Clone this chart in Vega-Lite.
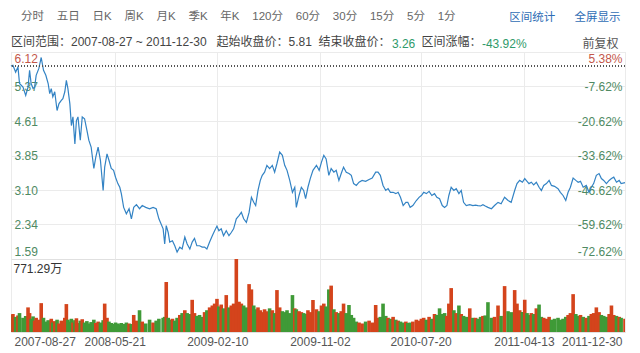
{
  "$schema": "https://vega.github.io/schema/vega-lite/v6.json",
  "padding": {"left": 8, "right": 18, "top": 10, "bottom": 4},
  "background": "white",
  "config": {
    "font": "Liberation Sans, Noto Sans CJK SC",
    "view": {"stroke": "#e0e0e0"},
    "axis": {"labelFont": "Liberation Sans, Noto Sans CJK SC", "titleFont": "Liberation Sans, Noto Sans CJK SC", "minExtent": 0},
    "axisY": {"minExtent": 0},
    "title": {"font": "Liberation Sans, Noto Sans CJK SC", "subtitleFont": "Liberation Sans, Noto Sans CJK SC"}
  },
  "title": {
    "text": "分时\u00a0\u00a0\u00a0\u00a0五日\u00a0\u00a0\u00a0\u00a0日K\u00a0\u00a0\u00a0\u00a0周K\u00a0\u00a0\u00a0\u00a0月K\u00a0\u00a0\u00a0\u00a0季K\u00a0\u00a0\u00a0\u00a0年K\u00a0\u00a0\u00a0\u00a0120分\u00a0\u00a0\u00a0\u00a060分\u00a0\u00a0\u00a0\u00a030分\u00a0\u00a0\u00a0\u00a015分\u00a0\u00a0\u00a0\u00a05分\u00a0\u00a0\u00a0\u00a01分",
    "anchor": "start",
    "frame": "group",
    "dx": 10,
    "fontSize": 11.5,
    "fontWeight": "normal",
    "color": "#666666",
    "offset": -11.5
  },
  "datasets": {
    "k": [
{"date":"2007-08-27","close":5.81,"volume":180,"dir":"down"},
{"date":"2007-09-01","close":5.83,"volume":190,"dir":"up"},
{"date":"2007-09-08","close":5.68,"volume":160,"dir":"down"},
{"date":"2007-09-14","close":5.79,"volume":175,"dir":"up"},
{"date":"2007-09-18","close":5.43,"volume":200,"dir":"down"},
{"date":"2007-09-27","close":5.35,"volume":150,"dir":"down"},
{"date":"2007-10-04","close":5.17,"volume":170,"dir":"down"},
{"date":"2007-10-10","close":5.35,"volume":260,"dir":"up"},
{"date":"2007-10-14","close":5.72,"volume":200,"dir":"up"},
{"date":"2007-10-18","close":5.43,"volume":140,"dir":"down"},
{"date":"2007-10-23","close":5.32,"volume":165,"dir":"down"},
{"date":"2007-10-27","close":5.35,"volume":120,"dir":"up"},
{"date":"2007-10-31","close":5.61,"volume":150,"dir":"up"},
{"date":"2007-11-07","close":5.76,"volume":130,"dir":"up"},
{"date":"2007-11-13","close":6.00,"volume":305,"dir":"up"},
{"date":"2007-11-19","close":5.72,"volume":150,"dir":"down"},
{"date":"2007-11-25","close":5.61,"volume":110,"dir":"down"},
{"date":"2007-12-01","close":5.43,"volume":125,"dir":"down"},
{"date":"2007-12-05","close":5.21,"volume":95,"dir":"down"},
{"date":"2007-12-09","close":5.32,"volume":140,"dir":"up"},
{"date":"2007-12-13","close":5.14,"volume":100,"dir":"down"},
{"date":"2007-12-18","close":5.25,"volume":115,"dir":"up"},
{"date":"2007-12-24","close":4.84,"volume":130,"dir":"down"},
{"date":"2007-12-29","close":4.99,"volume":90,"dir":"up"},
{"date":"2008-01-04","close":5.06,"volume":120,"dir":"up"},
{"date":"2008-01-08","close":5.10,"volume":105,"dir":"up"},
{"date":"2008-01-13","close":5.25,"volume":150,"dir":"up"},
{"date":"2008-01-17","close":5.50,"volume":295,"dir":"up"},
{"date":"2008-01-21","close":5.32,"volume":130,"dir":"down"},
{"date":"2008-01-26","close":4.99,"volume":110,"dir":"down"},
{"date":"2008-01-30","close":4.51,"volume":140,"dir":"down"},
{"date":"2008-02-03","close":4.70,"volume":100,"dir":"up"},
{"date":"2008-02-08","close":4.11,"volume":125,"dir":"down"},
{"date":"2008-02-12","close":4.62,"volume":145,"dir":"up"},
{"date":"2008-02-16","close":4.70,"volume":95,"dir":"up"},
{"date":"2008-02-22","close":4.19,"volume":120,"dir":"down"},
{"date":"2008-02-27","close":4.70,"volume":135,"dir":"up"},
{"date":"2008-03-04","close":4.66,"volume":100,"dir":"down"},
{"date":"2008-03-10","close":4.41,"volume":115,"dir":"down"},
{"date":"2008-03-15","close":4.19,"volume":90,"dir":"down"},
{"date":"2008-03-21","close":4.04,"volume":105,"dir":"down"},
{"date":"2008-03-28","close":3.57,"volume":130,"dir":"down"},
{"date":"2008-04-02","close":3.82,"volume":95,"dir":"up"},
{"date":"2008-04-08","close":4.04,"volume":110,"dir":"up"},
{"date":"2008-04-14","close":3.75,"volume":100,"dir":"down"},
{"date":"2008-04-21","close":3.09,"volume":125,"dir":"down"},
{"date":"2008-04-25","close":3.60,"volume":300,"dir":"up"},
{"date":"2008-05-01","close":3.89,"volume":150,"dir":"up"},
{"date":"2008-05-06","close":3.75,"volume":110,"dir":"down"},
{"date":"2008-05-12","close":3.57,"volume":95,"dir":"down"},
{"date":"2008-05-18","close":3.53,"volume":85,"dir":"down"},
{"date":"2008-05-23","close":3.38,"volume":100,"dir":"down"},
{"date":"2008-05-29","close":3.24,"volume":90,"dir":"down"},
{"date":"2008-06-03","close":3.16,"volume":80,"dir":"down"},
{"date":"2008-06-07","close":3.02,"volume":95,"dir":"down"},
{"date":"2008-06-13","close":2.72,"volume":85,"dir":"down"},
{"date":"2008-06-20","close":2.58,"volume":100,"dir":"down"},
{"date":"2008-06-27","close":2.69,"volume":90,"dir":"up"},
{"date":"2008-07-03","close":2.47,"volume":85,"dir":"down"},
{"date":"2008-07-09","close":2.72,"volume":180,"dir":"up"},
{"date":"2008-07-16","close":2.78,"volume":120,"dir":"up"},
{"date":"2008-07-24","close":2.69,"volume":230,"dir":"down"},
{"date":"2008-07-31","close":2.76,"volume":110,"dir":"up"},
{"date":"2008-08-09","close":2.72,"volume":90,"dir":"down"},
{"date":"2008-08-19","close":2.69,"volume":130,"dir":"down"},
{"date":"2008-08-28","close":2.72,"volume":100,"dir":"up"},
{"date":"2008-09-05","close":2.69,"volume":120,"dir":"down"},
{"date":"2008-09-12","close":2.47,"volume":140,"dir":"down"},
{"date":"2008-09-23","close":2.25,"volume":150,"dir":"down"},
{"date":"2008-09-27","close":1.92,"volume":160,"dir":"down"},
{"date":"2008-10-01","close":2.32,"volume":528,"dir":"up"},
{"date":"2008-10-06","close":2.17,"volume":150,"dir":"down"},
{"date":"2008-10-10","close":1.96,"volume":130,"dir":"down"},
{"date":"2008-10-17","close":1.99,"volume":140,"dir":"up"},
{"date":"2008-10-23","close":1.88,"volume":120,"dir":"down"},
{"date":"2008-10-29","close":1.74,"volume":150,"dir":"down"},
{"date":"2008-11-05","close":1.85,"volume":180,"dir":"up"},
{"date":"2008-11-11","close":1.81,"volume":200,"dir":"down"},
{"date":"2008-11-18","close":2.07,"volume":230,"dir":"up"},
{"date":"2008-11-24","close":1.92,"volume":200,"dir":"down"},
{"date":"2008-12-01","close":1.81,"volume":190,"dir":"down"},
{"date":"2008-12-07","close":1.96,"volume":340,"dir":"up"},
{"date":"2008-12-13","close":2.04,"volume":200,"dir":"up"},
{"date":"2008-12-19","close":1.88,"volume":170,"dir":"down"},
{"date":"2008-12-26","close":1.88,"volume":180,"dir":"down"},
{"date":"2009-01-02","close":1.85,"volume":160,"dir":"down"},
{"date":"2009-01-08","close":1.85,"volume":210,"dir":"up"},
{"date":"2009-01-14","close":1.81,"volume":230,"dir":"down"},
{"date":"2009-01-21","close":1.96,"volume":260,"dir":"up"},
{"date":"2009-01-28","close":2.10,"volume":280,"dir":"up"},
{"date":"2009-02-03","close":2.21,"volume":300,"dir":"up"},
{"date":"2009-02-09","close":2.31,"volume":350,"dir":"up"},
{"date":"2009-02-14","close":2.21,"volume":270,"dir":"down"},
{"date":"2009-02-20","close":2.25,"volume":290,"dir":"up"},
{"date":"2009-02-26","close":2.10,"volume":250,"dir":"down"},
{"date":"2009-03-05","close":2.21,"volume":390,"dir":"up"},
{"date":"2009-03-12","close":2.10,"volume":260,"dir":"down"},
{"date":"2009-03-18","close":2.17,"volume":280,"dir":"up"},
{"date":"2009-03-24","close":2.25,"volume":300,"dir":"up"},
{"date":"2009-03-31","close":2.47,"volume":771.29,"dir":"up"},
{"date":"2009-04-07","close":2.54,"volume":320,"dir":"up"},
{"date":"2009-04-13","close":2.61,"volume":300,"dir":"up"},
{"date":"2009-04-19","close":2.47,"volume":280,"dir":"down"},
{"date":"2009-04-26","close":2.39,"volume":260,"dir":"down"},
{"date":"2009-05-03","close":2.61,"volume":506,"dir":"up"},
{"date":"2009-05-09","close":2.94,"volume":450,"dir":"up"},
{"date":"2009-05-15","close":2.83,"volume":280,"dir":"down"},
{"date":"2009-05-20","close":2.76,"volume":240,"dir":"down"},
{"date":"2009-05-26","close":3.09,"volume":260,"dir":"up"},
{"date":"2009-06-01","close":3.31,"volume":230,"dir":"up"},
{"date":"2009-06-06","close":3.42,"volume":210,"dir":"up"},
{"date":"2009-06-12","close":3.49,"volume":240,"dir":"up"},
{"date":"2009-06-18","close":3.64,"volume":220,"dir":"up"},
{"date":"2009-06-25","close":3.57,"volume":250,"dir":"down"},
{"date":"2009-07-02","close":3.64,"volume":230,"dir":"up"},
{"date":"2009-07-08","close":3.49,"volume":200,"dir":"down"},
{"date":"2009-07-14","close":3.68,"volume":443,"dir":"up"},
{"date":"2009-07-21","close":3.93,"volume":260,"dir":"up"},
{"date":"2009-07-28","close":3.86,"volume":220,"dir":"down"},
{"date":"2009-08-03","close":3.64,"volume":210,"dir":"down"},
{"date":"2009-08-09","close":3.53,"volume":230,"dir":"down"},
{"date":"2009-08-16","close":3.31,"volume":200,"dir":"down"},
{"date":"2009-08-23","close":3.05,"volume":390,"dir":"down"},
{"date":"2009-08-29","close":3.16,"volume":250,"dir":"up"},
{"date":"2009-09-02","close":2.72,"volume":240,"dir":"down"},
{"date":"2009-09-09","close":2.98,"volume":220,"dir":"up"},
{"date":"2009-09-15","close":3.16,"volume":210,"dir":"up"},
{"date":"2009-09-21","close":3.09,"volume":200,"dir":"down"},
{"date":"2009-09-26","close":2.91,"volume":190,"dir":"down"},
{"date":"2009-10-02","close":3.16,"volume":230,"dir":"up"},
{"date":"2009-10-08","close":3.35,"volume":210,"dir":"up"},
{"date":"2009-10-15","close":3.53,"volume":338,"dir":"up"},
{"date":"2009-10-24","close":3.64,"volume":240,"dir":"up"},
{"date":"2009-10-31","close":3.53,"volume":220,"dir":"down"},
{"date":"2009-11-06","close":3.71,"volume":280,"dir":"up"},
{"date":"2009-11-12","close":3.86,"volume":300,"dir":"up"},
{"date":"2009-11-18","close":3.78,"volume":270,"dir":"down"},
{"date":"2009-11-25","close":3.42,"volume":450,"dir":"down"},
{"date":"2009-12-01","close":3.57,"volume":490,"dir":"up"},
{"date":"2009-12-08","close":3.49,"volume":240,"dir":"down"},
{"date":"2009-12-14","close":3.53,"volume":210,"dir":"up"},
{"date":"2009-12-21","close":3.31,"volume":200,"dir":"down"},
{"date":"2009-12-27","close":3.46,"volume":220,"dir":"up"},
{"date":"2010-01-02","close":3.60,"volume":300,"dir":"up"},
{"date":"2010-01-09","close":3.49,"volume":200,"dir":"down"},
{"date":"2010-01-16","close":3.46,"volume":285,"dir":"down"},
{"date":"2010-01-22","close":3.42,"volume":180,"dir":"down"},
{"date":"2010-01-28","close":3.24,"volume":150,"dir":"down"},
{"date":"2010-02-04","close":3.20,"volume":110,"dir":"down"},
{"date":"2010-02-11","close":3.27,"volume":100,"dir":"up"},
{"date":"2010-02-19","close":3.31,"volume":90,"dir":"up"},
{"date":"2010-02-28","close":3.29,"volume":110,"dir":"down"},
{"date":"2010-03-09","close":3.33,"volume":120,"dir":"up"},
{"date":"2010-03-17","close":3.36,"volume":100,"dir":"up"},
{"date":"2010-03-26","close":3.49,"volume":285,"dir":"up"},
{"date":"2010-04-01","close":3.49,"volume":150,"dir":"up"},
{"date":"2010-04-07","close":3.42,"volume":160,"dir":"down"},
{"date":"2010-04-14","close":3.20,"volume":300,"dir":"down"},
{"date":"2010-04-21","close":3.09,"volume":170,"dir":"down"},
{"date":"2010-04-27","close":3.13,"volume":150,"dir":"up"},
{"date":"2010-05-03","close":3.05,"volume":140,"dir":"down"},
{"date":"2010-05-10","close":3.05,"volume":160,"dir":"up"},
{"date":"2010-05-17","close":3.02,"volume":130,"dir":"down"},
{"date":"2010-05-23","close":3.05,"volume":120,"dir":"up"},
{"date":"2010-05-29","close":2.94,"volume":110,"dir":"down"},
{"date":"2010-06-05","close":2.76,"volume":100,"dir":"down"},
{"date":"2010-06-12","close":2.83,"volume":110,"dir":"up"},
{"date":"2010-06-17","close":2.83,"volume":95,"dir":"down"},
{"date":"2010-06-23","close":2.72,"volume":100,"dir":"down"},
{"date":"2010-06-30","close":2.76,"volume":110,"dir":"up"},
{"date":"2010-07-09","close":2.87,"volume":130,"dir":"up"},
{"date":"2010-07-16","close":2.94,"volume":120,"dir":"up"},
{"date":"2010-07-22","close":2.98,"volume":140,"dir":"up"},
{"date":"2010-07-28","close":3.05,"volume":150,"dir":"up"},
{"date":"2010-08-04","close":3.02,"volume":130,"dir":"down"},
{"date":"2010-08-11","close":3.07,"volume":160,"dir":"up"},
{"date":"2010-08-18","close":2.98,"volume":140,"dir":"down"},
{"date":"2010-08-25","close":3.02,"volume":190,"dir":"up"},
{"date":"2010-08-31","close":2.94,"volume":180,"dir":"down"},
{"date":"2010-09-07","close":2.91,"volume":250,"dir":"down"},
{"date":"2010-09-14","close":2.76,"volume":190,"dir":"down"},
{"date":"2010-09-20","close":2.72,"volume":200,"dir":"down"},
{"date":"2010-09-26","close":2.76,"volume":170,"dir":"up"},
{"date":"2010-10-01","close":2.98,"volume":300,"dir":"up"},
{"date":"2010-10-07","close":3.16,"volume":464,"dir":"up"},
{"date":"2010-10-14","close":3.09,"volume":230,"dir":"down"},
{"date":"2010-10-20","close":3.13,"volume":200,"dir":"up"},
{"date":"2010-10-27","close":3.02,"volume":280,"dir":"down"},
{"date":"2010-11-02","close":3.09,"volume":190,"dir":"up"},
{"date":"2010-11-08","close":2.83,"volume":170,"dir":"down"},
{"date":"2010-11-15","close":2.76,"volume":160,"dir":"down"},
{"date":"2010-11-24","close":2.78,"volume":250,"dir":"up"},
{"date":"2010-12-02","close":2.76,"volume":150,"dir":"down"},
{"date":"2010-12-09","close":2.77,"volume":150,"dir":"up"},
{"date":"2010-12-15","close":2.76,"volume":140,"dir":"down"},
{"date":"2010-12-22","close":2.75,"volume":160,"dir":"down"},
{"date":"2010-12-28","close":2.78,"volume":170,"dir":"up"},
{"date":"2011-01-03","close":2.75,"volume":175,"dir":"down"},
{"date":"2011-01-10","close":2.72,"volume":315,"dir":"down"},
{"date":"2011-01-19","close":2.69,"volume":150,"dir":"down"},
{"date":"2011-01-27","close":2.76,"volume":160,"dir":"up"},
{"date":"2011-02-05","close":2.83,"volume":280,"dir":"up"},
{"date":"2011-02-13","close":2.80,"volume":170,"dir":"down"},
{"date":"2011-02-22","close":2.94,"volume":485,"dir":"up"},
{"date":"2011-03-03","close":2.87,"volume":220,"dir":"down"},
{"date":"2011-03-11","close":2.83,"volume":210,"dir":"down"},
{"date":"2011-03-20","close":3.09,"volume":443,"dir":"up"},
{"date":"2011-03-26","close":3.24,"volume":300,"dir":"up"},
{"date":"2011-04-02","close":3.31,"volume":230,"dir":"up"},
{"date":"2011-04-09","close":3.27,"volume":210,"dir":"down"},
{"date":"2011-04-15","close":3.35,"volume":340,"dir":"up"},
{"date":"2011-04-21","close":3.29,"volume":200,"dir":"down"},
{"date":"2011-04-26","close":3.24,"volume":180,"dir":"down"},
{"date":"2011-05-02","close":3.27,"volume":200,"dir":"up"},
{"date":"2011-05-08","close":3.21,"volume":190,"dir":"down"},
{"date":"2011-05-15","close":3.27,"volume":250,"dir":"up"},
{"date":"2011-05-22","close":3.16,"volume":290,"dir":"down"},
{"date":"2011-05-28","close":3.09,"volume":160,"dir":"down"},
{"date":"2011-06-03","close":3.20,"volume":150,"dir":"up"},
{"date":"2011-06-10","close":3.24,"volume":140,"dir":"up"},
{"date":"2011-06-17","close":3.31,"volume":160,"dir":"up"},
{"date":"2011-06-23","close":3.20,"volume":130,"dir":"down"},
{"date":"2011-07-01","close":3.18,"volume":140,"dir":"down"},
{"date":"2011-07-10","close":3.13,"volume":150,"dir":"down"},
{"date":"2011-07-16","close":3.05,"volume":130,"dir":"down"},
{"date":"2011-07-23","close":2.98,"volume":140,"dir":"down"},
{"date":"2011-07-30","close":2.87,"volume":160,"dir":"down"},
{"date":"2011-08-05","close":3.05,"volume":180,"dir":"up"},
{"date":"2011-08-11","close":3.16,"volume":200,"dir":"up"},
{"date":"2011-08-18","close":3.36,"volume":400,"dir":"up"},
{"date":"2011-08-25","close":3.31,"volume":190,"dir":"down"},
{"date":"2011-08-31","close":3.27,"volume":170,"dir":"down"},
{"date":"2011-09-06","close":3.29,"volume":180,"dir":"up"},
{"date":"2011-09-13","close":3.16,"volume":160,"dir":"down"},
{"date":"2011-09-21","close":3.20,"volume":150,"dir":"up"},
{"date":"2011-09-28","close":3.05,"volume":170,"dir":"down"},
{"date":"2011-10-04","close":3.16,"volume":190,"dir":"up"},
{"date":"2011-10-10","close":3.24,"volume":200,"dir":"up"},
{"date":"2011-10-17","close":3.42,"volume":260,"dir":"up"},
{"date":"2011-10-24","close":3.46,"volume":210,"dir":"up"},
{"date":"2011-10-30","close":3.35,"volume":180,"dir":"down"},
{"date":"2011-11-05","close":3.31,"volume":170,"dir":"down"},
{"date":"2011-11-12","close":3.24,"volume":160,"dir":"down"},
{"date":"2011-11-19","close":3.31,"volume":190,"dir":"up"},
{"date":"2011-11-25","close":3.35,"volume":280,"dir":"up"},
{"date":"2011-12-01","close":3.38,"volume":180,"dir":"up"},
{"date":"2011-12-08","close":3.27,"volume":170,"dir":"down"},
{"date":"2011-12-15","close":3.31,"volume":160,"dir":"up"},
{"date":"2011-12-20","close":3.24,"volume":150,"dir":"down"},
{"date":"2011-12-30","close":3.26,"volume":140,"dir":"up"}
    ]
  },
  "spacing": 0,
  "bounds": "flush",
  "vconcat": [
    {
      "width": 614,
      "height": 207,
      "title": {"text": "区间范围：2007-08-27 ~ 2011-12-30\u00a0\u00a0\u00a0起始收盘价：5.81\u00a0\u00a0结束收盘价：", "anchor": "start", "frame": "group", "offset": -38, "fontSize": 12, "fontWeight": "normal", "color": "#444444"},
      "data": {"name": "k"},
      "layer": [
        {
          "mark": {"type": "line", "color": "#3383c4", "strokeWidth": 1.2},
          "encoding": {
            "x": {
              "field": "date", "type": "temporal",
              "scale": {"domain": [{"year": 2007, "month": 8, "date": 27}, {"year": 2011, "month": 12, "date": 30}], "padding": 0},
              "axis": {
                "orient": "top",
                "values": [{"year": 2007, "month": 8, "date": 27}, {"year": 2008, "month": 5, "date": 21}, {"year": 2009, "month": 2, "date": 10}, {"year": 2009, "month": 11, "date": 2}, {"year": 2010, "month": 7, "date": 20}, {"year": 2011, "month": 4, "date": 13}, {"year": 2011, "month": 12, "date": 30}],
                "labels": false, "ticks": false, "domain": false,
                "grid": true, "gridColor": "#ebebeb",
                "title": "区间统计\u00a0\u00a0\u00a0\u00a0\u00a0\u00a0全屏显示",
                "titleColor": "#2f6db5", "titleFontSize": 11.5, "titleFontWeight": "normal",
                "titleAngle": 0, "titleAlign": "right", "titleBaseline": "middle",
                "titleX": 609, "titleY": -35
              }
            },
            "y": {
              "field": "close", "type": "quantitative",
              "scale": {"domain": [1.59, 6.12], "nice": false, "zero": false},
              "axis": {
                "orient": "left",
                "minExtent": 0,
                "values": [1.59, 2.345, 3.1, 3.855, 4.61, 5.365, 6.12],
                "labelExpr": "['1.59','2.34','3.10','3.85','4.61','5.37','6.12'][round((datum.value-1.59)/0.755)]",
                "labelAlign": "left", "labelPadding": -3,
                "labelFlush": true, "labelFlushOffset": -1,
                "labelFontSize": 12,
                "labelColor": {"condition": {"test": "datum.value > 6", "value": "#c4574a"}, "value": "#4f8a63"},
                "grid": true, "gridColor": "#ebebeb",
                "ticks": false, "domain": false,
                "title": "3.26", "titleAngle": 0, "titleAlign": "left", "titleBaseline": "middle",
                "titleX": 380.4, "titleY": -9, "titleFontWeight": "normal", "titleFontSize": 12, "titleColor": "#2f9a6a"
              }
            }
          }
        },
        {
          "mark": {"type": "rule", "color": "#555555", "strokeDash": [1, 2], "strokeWidth": 1},
          "encoding": {
            "y": {
              "datum": 5.81, "type": "quantitative",
              "axis": {
                "orient": "right",
                "minExtent": 0,
                "values": [1.59, 2.345, 3.1, 3.855, 4.61, 5.365, 6.12],
                "labelExpr": "['-72.62%','-59.62%','-46.62%','-33.62%','-20.62%','-7.62%','5.38%'][round((datum.value-1.59)/0.755)]",
                "labelAlign": "right", "labelPadding": -3,
                "labelFlush": true, "labelFlushOffset": -1,
                "labelFontSize": 12,
                "labelColor": {"condition": {"test": "datum.value > 6", "value": "#c4574a"}, "value": "#4f8a63"},
                "grid": false, "ticks": false, "domain": false,
                "title": "前复权", "titleAngle": 0, "titleAlign": "right", "titleBaseline": "middle",
                "titleX": -7, "titleY": -9, "titleFontWeight": "normal", "titleFontSize": 12, "titleColor": "#555555"
              }
            }
          }
        }
      ],
      "resolve": {"axis": {"y": "independent"}}
    },
    {
      "width": 614,
      "height": 73,
      "title": {"text": "区间涨幅：", "anchor": "start", "frame": "group", "dx": 410.4, "offset": -12.25, "fontSize": 12, "fontWeight": "normal", "color": "#444444"},
      "data": {"name": "k"},
      "mark": {"type": "bar", "size": 3.6, "clip": true},
      "encoding": {
        "x": {
          "field": "date", "type": "temporal",
          "scale": {"domain": [{"year": 2007, "month": 8, "date": 27}, {"year": 2011, "month": 12, "date": 30}], "padding": 0},
          "axis": {
            "orient": "bottom",
            "values": [{"year": 2007, "month": 8, "date": 27}, {"year": 2008, "month": 5, "date": 21}, {"year": 2009, "month": 2, "date": 10}, {"year": 2009, "month": 11, "date": 2}, {"year": 2010, "month": 7, "date": 20}, {"year": 2011, "month": 4, "date": 13}, {"year": 2011, "month": 12, "date": 30}],
            "format": "%Y-%m-%d",
            "grid": true, "gridColor": "#ebebeb",
            "ticks": false, "domain": false,
            "labelFlush": true, "labelFlushOffset": -3,
            "labelPadding": 4, "labelFontSize": 12, "labelColor": "#555555",
            "title": null
          }
        },
        "y": {
          "field": "volume", "type": "quantitative",
          "scale": {"domain": [0, 771.29], "nice": false},
          "axis": {
            "orient": "left",
            "minExtent": 0,
            "values": [771.29],
            "labelExpr": "'771.29万'",
            "labelAlign": "left", "labelPadding": -2, "labelBaseline": "top", "labelOffset": 4,
            "labelFontSize": 12, "labelColor": "#333333",
            "grid": false, "ticks": false, "domain": false,
            "title": "-43.92%", "titleAngle": 0, "titleAlign": "left", "titleBaseline": "middle",
            "titleX": 470.4, "titleY": -216, "titleFontWeight": "normal", "titleFontSize": 12, "titleColor": "#2f9a6a"
          }
        },
        "color": {
          "field": "dir", "type": "nominal",
          "scale": {"domain": ["up", "down"], "range": ["#d4441c", "#3f9a37"]},
          "legend": null
        }
      }
    }
  ]
}
